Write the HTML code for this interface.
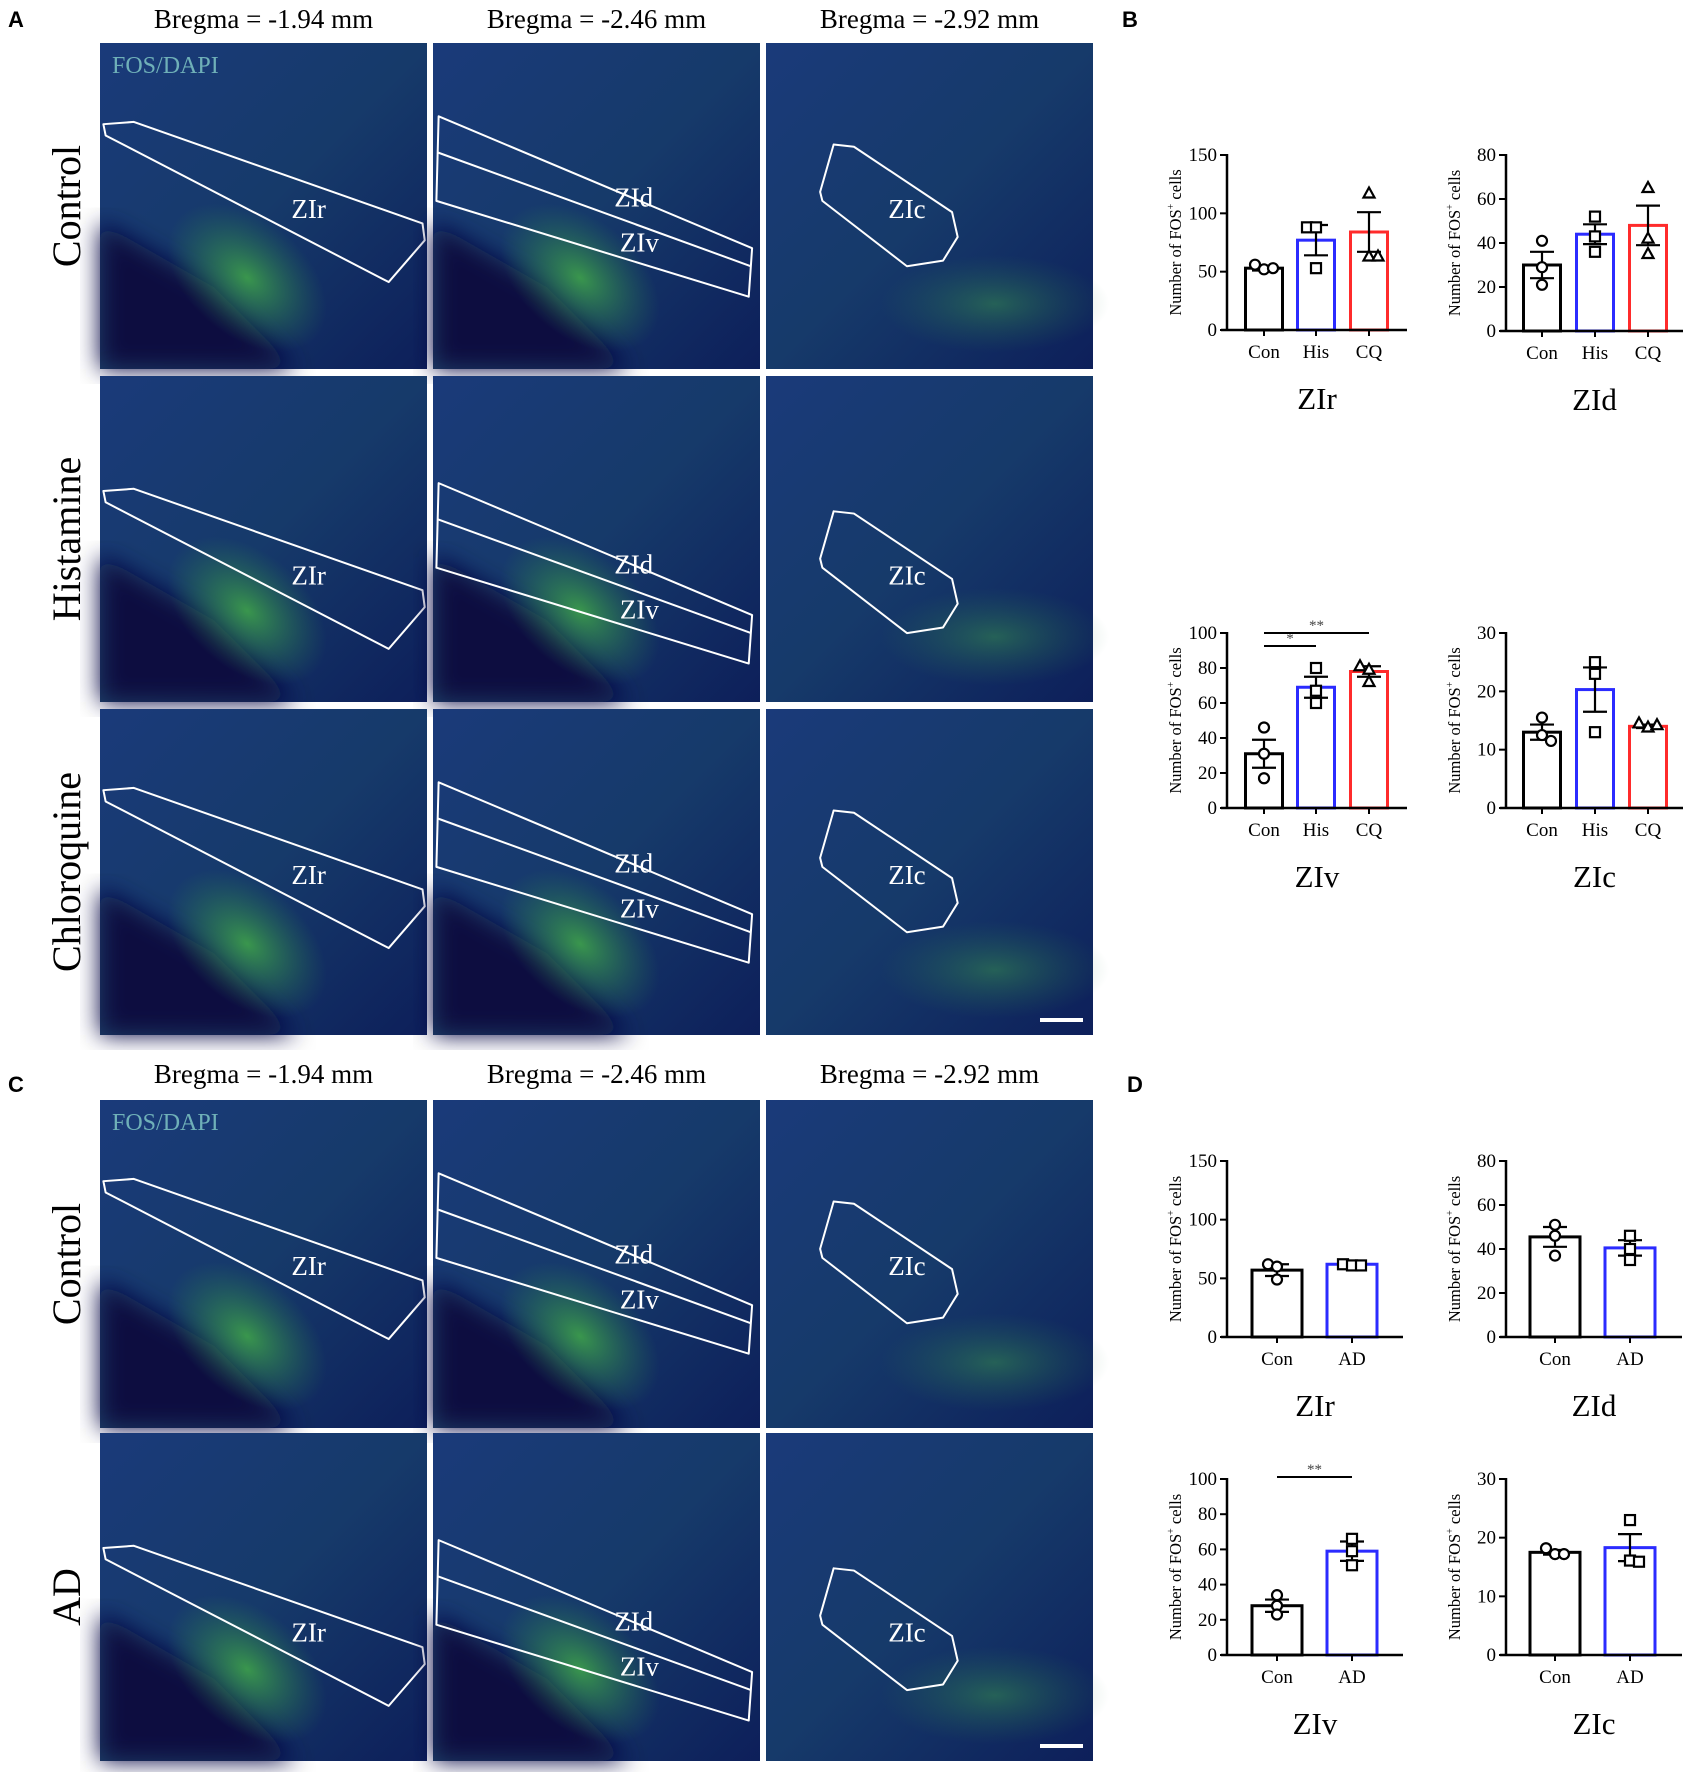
<!DOCTYPE html>
<html><head><meta charset="utf-8">
<style>
html,body{margin:0;padding:0;background:#fff;}
svg{display:block;font-family:"Liberation Serif",serif;}
.pl{font-family:"Liberation Sans",sans-serif;font-weight:bold;font-size:22px;}
</style></head>
<body>
<svg id="fig" width="1693" height="1772" viewBox="0 0 1693 1772" xmlns="http://www.w3.org/2000/svg">
<defs>
  <linearGradient id="bg1" x1="0" y1="0" x2="1" y2="1">
    <stop offset="0" stop-color="#1a3a7a"/><stop offset="0.5" stop-color="#163a6a"/><stop offset="1" stop-color="#0d1f5a"/>
  </linearGradient>
  <radialGradient id="grn" cx="0.5" cy="0.5" r="0.5">
    <stop offset="0" stop-color="#3ea14a" stop-opacity="0.9"/><stop offset="1" stop-color="#2a7a50" stop-opacity="0"/>
  </radialGradient>
  <filter id="blur"><feGaussianBlur stdDeviation="12"/></filter>
</defs>
<g id="micro"></g>
<g id="charts"></g>
</svg>
<script>
// ---------- chart data ----------
const groupsB = ["Con","His","CQ"];
const groupsD = ["Con","AD"];
const colorsB = ["#000000","#2b2bff","#ff2b2b"];
const colorsD = ["#000000","#2b2bff"];
const markersB = ["circle","square","triangle"];
const markersD = ["circle","square"];

const bZIrMeans = [53, 77, 84];
const bZIrSem = [2, 13, 17];
const bZIrPoints = [[56, 52, 53], [88, 88, 53], [117, 63, 63]];
const bZIrTicks = [0, 50, 100, 150];

const bZIdMeans = [30, 44, 48];
const bZIdSem = [6, 4.5, 9];
const bZIdPoints = [[41, 29, 21], [52, 43, 36], [65, 42, 35]];
const bZIdTicks = [0, 20, 40, 60, 80];

const bZIvMeans = [31, 69, 78];
const bZIvSem = [8, 6, 3];
const bZIvPoints = [[46, 31, 17], [80, 67, 60], [81, 79, 72]];
const bZIvTicks = [0, 20, 40, 60, 80, 100];

const bZIcMeans = [13, 20.3, 14];
const bZIcSem = [1.3, 3.8, 0.3];
const bZIcPoints = [[15.5, 12.5, 11.5], [25, 23, 13], [14.5, 13.8, 14.2]];
const bZIcTicks = [0, 10, 20, 30];

const dZIrMeans = [57, 62];
const dZIrSem = [5, 1];
const dZIrPoints = [[62, 60, 49], [62, 61, 61]];
const dZIrTicks = [0, 50, 100, 150];

const dZIdMeans = [45.5, 40.5];
const dZIdSem = [4.5, 3.5];
const dZIdPoints = [[51, 46, 37], [46, 40, 35]];
const dZIdTicks = [0, 20, 40, 60, 80];

const dZIvMeans = [28, 59];
const dZIvSem = [3.5, 5.5];
const dZIvPoints = [[34, 28, 23], [66, 59, 51]];
const dZIvTicks = [0, 20, 40, 60, 80, 100];

const dZIcMeans = [17.5, 18.3];
const dZIcSem = [0.4, 2.3];
const dZIcPoints = [[18.2, 17.2, 17.2], [23, 16.1, 15.9]];
const dZIcTicks = [0, 10, 20, 30];

const NS = "http://www.w3.org/2000/svg";
function mk(parent, tag, attrs, text) {
  const e = document.createElementNS(NS, tag);
  for (const k in attrs) e.setAttribute(k, attrs[k]);
  if (text !== undefined) e.textContent = text;
  parent.appendChild(e);
  return e;
}

// ---------- micrographs ----------
const micro = document.getElementById('micro');
const colX = [100, 433, 766];
const rowsA = [43, 376, 709];
const rowsC = [1100, 1433];
const PW = 327;

function roi(g, col, dy) {
  // shapes in 290 unit space
  let pts, extra = null, labels = [];
  if (col === 0) {
    pts = [[3,72],[30,70],[286,160],[288,175],[256,212],[5,82]].map(p=>[p[0],p[1]+dy]);
    labels = [["ZIr",185,155+dy]];
  } else if (col === 1) {
    pts = [[5,65],[283,182],[280,225],[3,140]].map(p=>[p[0],p[1]+dy]);
    extra = [[4,97+dy],[282,198+dy]];
    labels = [["ZId",178,145+dy],["ZIv",183,185+dy]];
  } else {
    pts = [[60,90],[78,92],[165,150],[170,172],[157,193],[125,198],[50,140],[48,132]].map(p=>[p[0],p[1]+dy]);
    labels = [["ZIc",125,155+dy]];
  }
  const s = PW/290;
  const poly = mk(g, 'polygon', {points: pts.map(p=>(p[0]*s)+','+(p[1]*s)).join(' '), fill:'none', stroke:'#fff', 'stroke-width':2, 'stroke-linejoin':'round'});
  
  
  if (extra) mk(g,'line',{x1:extra[0][0]*s,y1:extra[0][1]*s,x2:extra[1][0]*s,y2:extra[1][1]*s,stroke:'#fff','stroke-width':2});
  labels.forEach(l=>{
    const t = mk(g,'text',{x:l[1]*s,y:l[2]*s,fill:'#fff','font-size':27,'text-anchor':'middle'},l[0]);
    
    
  });
}

function panel(x, y, h, col, dy, fos, bar) {
  const g = mk(micro,'g',{transform:`translate(${x},${y})`});
  
  
  mk(g,'rect',{x:0,y:0,width:PW,height:h,fill:'url(#bg1)'});
  if (col < 2) {
    mk(g,'polygon',{points:`0,${h*0.55} ${PW*0.35},${h*0.75} ${PW*0.6},${h} 0,${h}`,fill:'#081040',filter:'url(#blur)'});
    mk(g,'ellipse',{cx:PW*0.45,cy:h*0.72,rx:PW*0.28,ry:h*0.18,fill:'url(#grn)',transform:`rotate(40 ${PW*0.45} ${h*0.72})`});
  } else {
    mk(g,'ellipse',{cx:PW*0.7,cy:h*0.8,rx:PW*0.35,ry:h*0.15,fill:'url(#grn)',opacity:0.5});
  }
  roi(g, col, dy);
  if (fos) {
    const t = mk(g,'text',{x:12,y:30,fill:'#6fb0b8','font-size':24},'FOS/DAPI');
    
    
  }
  if (bar) mk(g,'rect',{x:PW-53,y:h-17,width:43,height:4,fill:'#fff'});
}
for (let r=0;r<3;r++) for (let c=0;c<3;c++) panel(colX[c], rowsA[r], 326, c, [0,33,0][c]*0 + (r===1? (c===2?30:30):0), r===0&&c===0, r===2&&c===2);
for (let r=0;r<2;r++) for (let c=0;c<3;c++) panel(colX[c], rowsC[r], 328, c, r===1?30:0, r===0&&c===0, r===1&&c===2);

function txt(x,y,s,size,name,extra){
  const t = mk(micro,'text',Object.assign({x:x,y:y,'font-size':size,'text-anchor':'middle',fill:'#000'},extra||{}),s);
  
  
  return t;
}
const bregma = ["Bregma = -1.94 mm","Bregma = -2.46 mm","Bregma = -2.92 mm"];
bregma.forEach((b,i)=>{ txt(colX[i]+PW/2, 28, b, 27, 'bregma-title-a'); txt(colX[i]+PW/2, 1083, b, 27, 'bregma-title-c'); });
const rowNamesA = ["Control","Histamine","Chloroquine"];
rowNamesA.forEach((n,i)=>{ const cy=rowsA[i]+163; txt(0,0,n,40,'row-label',{transform:`translate(80,${cy}) rotate(-90)`}); });
["Control","AD"].forEach((n,i)=>{ const cy=rowsC[i]+164; txt(0,0,n,40,'row-label',{transform:`translate(80,${cy}) rotate(-90)`}); });
[["A",8,27],["B",1122,27],["C",8,1092],["D",1127,1092]].forEach(p=>{
  const t = mk(micro,'text',{x:p[1],y:p[2],class:'pl'},p[0]);
  
  
});

// ---------- charts ----------
const charts = document.getElementById('charts');
function marker(g, type, x, y, color) {
  let m;
  if (type==='circle') m = mk(g,'circle',{cx:x,cy:y,r:5,fill:'#fff',stroke:'#000','stroke-width':2.2});
  else if (type==='square') m = mk(g,'rect',{x:x-5,y:y-5,width:10,height:10,fill:'#fff',stroke:'#000','stroke-width':2.2});
  else m = mk(g,'polygon',{points:`${x},${y-6} ${x+5.5},${y+4} ${x-5.5},${y+4}`,fill:'#fff',stroke:'#000','stroke-width':2.2});
  
  
}
function chart(o) {
  const g = mk(charts,'g',{});
  
  
  const yMax = o.ticks[o.ticks.length-1];
  const ys = v => o.y0 - (v/yMax)*(o.y0-o.yTop);
  // bars
  o.means.forEach((m,i)=>{
    const cx=o.centers[i];
    const b = mk(g,'rect',{x:cx-o.bw/2,y:ys(m),width:o.bw,height:o.y0-ys(m),fill:'#fff',stroke:o.colors[i],'stroke-width':3});
    
    
  });
  // axes
  mk(g,'line',{x1:o.ax,y1:o.yTop-1,x2:o.ax,y2:o.y0,stroke:'#000','stroke-width':2.5});
  mk(g,'line',{x1:o.ax-6,y1:o.y0,x2:o.right,y2:o.y0,stroke:'#000','stroke-width':2.5});
  o.ticks.forEach(t=>{
    mk(g,'line',{x1:o.ax-7,y1:ys(t),x2:o.ax,y2:ys(t),stroke:'#000','stroke-width':2});
    const l = mk(g,'text',{x:o.ax-10,y:ys(t)+6,'font-size':19,'text-anchor':'end'},String(t));
    
    
  });
  o.groups.forEach((gr,i)=>{
    mk(g,'line',{x1:o.centers[i],y1:o.y0,x2:o.centers[i],y2:o.y0+6,stroke:'#000','stroke-width':2});
    const l = mk(g,'text',{x:o.centers[i],y:o.y0+28,'font-size':19,'text-anchor':'middle'},gr);
    
    
  });
  // error bars + points
  o.means.forEach((m,i)=>{
    const cx=o.centers[i];
    const hi=ys(m+o.sem[i]), lo=ys(m-o.sem[i]);
    mk(g,'line',{x1:cx,y1:hi,x2:cx,y2:lo,stroke:'#000','stroke-width':2.2});
    mk(g,'line',{x1:cx-12,y1:hi,x2:cx+12,y2:hi,stroke:'#000','stroke-width':2.2});
    mk(g,'line',{x1:cx-12,y1:lo,x2:cx+12,y2:lo,stroke:'#000','stroke-width':2.2});
    const offs = [-9, 0, 9];
    o.points[i].forEach((p,j)=>{
      const dx = Math.abs(p - o.points[i][(j+1)%3]) < yMax*0.04 || Math.abs(p - o.points[i][(j+2)%3]) < yMax*0.04 ? offs[j] : 0;
      marker(g, o.markers[i], cx+dx, ys(p), '#000');
    });
  });
  const yt = mk(g,'text',{'font-size':16.5,'text-anchor':'middle',transform:`translate(${o.ax-46},${(o.y0+o.yTop)/2}) rotate(-90)`});
  yt.textContent = 'Number of  FOS';
  mk(yt,'tspan',{'font-size':10,dy:-7},'+');
  mk(yt,'tspan',{dy:7},' cells');
  
  
  const tt = mk(g,'text',{x:(o.ax+o.right)/2,y:o.y0+79,'font-size':31,'text-anchor':'middle'},o.title);
  
  
  (o.sig||[]).forEach(s=>{
    mk(g,'line',{x1:o.centers[s[0]],y1:s[2],x2:o.centers[s[1]],y2:s[2],stroke:'#000','stroke-width':2});
    const st = mk(g,'text',{x:(o.centers[s[0]]+o.centers[s[1]])/2,y:s[2]-3,'font-size':15,'text-anchor':'middle',fill:'#444'},s[3]);
    
    
  });
}
const bL = {ax:1227, centers:[1264,1316,1369], right:1407, bw:37, groups:groupsB, colors:colorsB, markers:markersB};
const bR = {ax:1506, centers:[1542,1595,1648], right:1683, bw:37, groups:groupsB, colors:colorsB, markers:markersB};
chart(Object.assign({}, bL, {name:'chart-b-zir', title:'ZIr', yTop:155, y0:330, ticks:bZIrTicks, means:bZIrMeans, sem:bZIrSem, points:bZIrPoints}));
chart(Object.assign({}, bR, {name:'chart-b-zid', title:'ZId', yTop:155, y0:331, ticks:bZIdTicks, means:bZIdMeans, sem:bZIdSem, points:bZIdPoints}));
chart(Object.assign({}, bL, {name:'chart-b-ziv', title:'ZIv', yTop:633, y0:808, ticks:bZIvTicks, means:bZIvMeans, sem:bZIvSem, points:bZIvPoints,
  sig:[[0,1,646,'*'],[0,2,633,'**']]}));
chart(Object.assign({}, bR, {name:'chart-b-zic', title:'ZIc', yTop:633, y0:808, ticks:bZIcTicks, means:bZIcMeans, sem:bZIcSem, points:bZIcPoints}));
const dL = {ax:1227, centers:[1277,1352], right:1403, bw:50, groups:groupsD, colors:colorsD, markers:markersD};
const dR = {ax:1506, centers:[1555,1630], right:1682, bw:50, groups:groupsD, colors:colorsD, markers:markersD};
chart(Object.assign({}, dL, {name:'chart-d-zir', title:'ZIr', yTop:1161, y0:1337, ticks:dZIrTicks, means:dZIrMeans, sem:dZIrSem, points:dZIrPoints}));
chart(Object.assign({}, dR, {name:'chart-d-zid', title:'ZId', yTop:1161, y0:1337, ticks:dZIdTicks, means:dZIdMeans, sem:dZIdSem, points:dZIdPoints}));
chart(Object.assign({}, dL, {name:'chart-d-ziv', title:'ZIv', yTop:1479, y0:1655, ticks:dZIvTicks, means:dZIvMeans, sem:dZIvSem, points:dZIvPoints,
  sig:[[0,1,1477,'**']]}));
chart(Object.assign({}, dR, {name:'chart-d-zic', title:'ZIc', yTop:1479, y0:1655, ticks:dZIcTicks, means:dZIcMeans, sem:dZIcSem, points:dZIcPoints}));
</script>
</body></html>
